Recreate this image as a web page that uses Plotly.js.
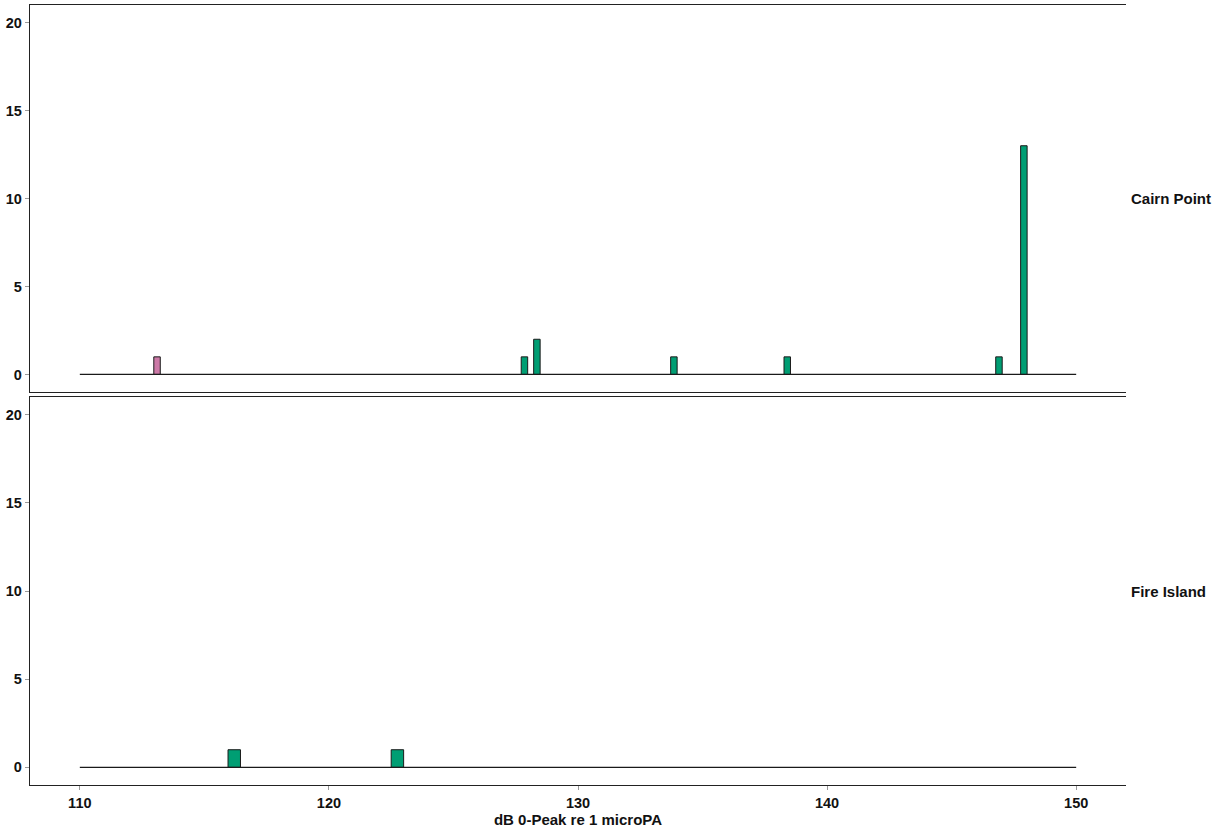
<!DOCTYPE html>
<html>
<head>
<meta charset="utf-8">
<script src="https://cdn.plot.ly/plotly-3.0.1.min.js"></script>
<style>html,body{margin:0;padding:0;background:#fff;}#chart{width:1225px;height:830px;}</style>
</head>
<body>
<div id="chart"></div>
<script>
// Data
const panels = ["Cairn Point", "Fire Island"];
const cairnPinkX = [113.1];
const cairnPinkY = [1];
const cairnGreenX = [127.85, 128.35, 133.85, 138.4, 146.9, 147.9];
const cairnGreenY = [1, 2, 1, 1, 1, 13];
const fireGreenX = [116.2, 122.75];
const fireGreenY = [1, 1];
const baselineX = [110, 150];
const baselineY = [0, 0];
const xTicks = [110, 120, 130, 140, 150];
const yTicks = [0, 5, 10, 15, 20];

const green = "#009E73", pink = "#CC79A7";
const outline = {color: "#1a1a1a", width: 1};
const FAM = "Liberation Sans, Arial, sans-serif";

const traces = [
  {type: "scatter", mode: "lines", x: baselineX, y: baselineY, xaxis: "x2", yaxis: "y2",
   line: {color: "#1a1a1a", width: 1.2}, hoverinfo: "skip", showlegend: false},
  {type: "scatter", mode: "lines", x: baselineX, y: baselineY, xaxis: "x", yaxis: "y",
   line: {color: "#1a1a1a", width: 1.2}, hoverinfo: "skip", showlegend: false},
  {type: "bar", x: cairnPinkX, y: cairnPinkY, xaxis: "x2", yaxis: "y2", width: 0.26,
   marker: {color: pink, line: outline}, showlegend: false},
  {type: "bar", x: cairnGreenX, y: cairnGreenY, xaxis: "x2", yaxis: "y2", width: 0.26,
   marker: {color: green, line: outline}, showlegend: false},
  {type: "bar", x: fireGreenX, y: fireGreenY, xaxis: "x", yaxis: "y", width: 0.5,
   marker: {color: green, line: outline}, showlegend: false}
];

const tickFont = {family: FAM, size: 14.5, color: "#111", weight: "bold"};
const axisLine = {showline: true, linecolor: "#222", linewidth: 1.2, zeroline: false, showgrid: false};

const layout = {
  width: 1225, height: 830,
  margin: {l: 30, r: 99, t: 5, b: 45},
  paper_bgcolor: "#fff", plot_bgcolor: "#fff",
  barmode: "overlay",
  font: {family: FAM},
  xaxis: Object.assign({}, axisLine, {
    anchor: "y", range: [108, 152], tickvals: xTicks, ticktext: xTicks.map(String),
    ticks: "outside", ticklen: 4, tickcolor: "#999", tickwidth: 1, mirror: true,
    tickfont: tickFont,
    title: {text: "dB 0-Peak re 1 microPA", font: {family: FAM, size: 15, color: "#111", weight: "bold"}, standoff: 4}
  }),
  xaxis2: Object.assign({}, axisLine, {
    anchor: "y2", range: [108, 152], showticklabels: false, ticks: "", mirror: true, matches: "x"
  }),
  yaxis: Object.assign({}, axisLine, {
    domain: [0, 0.4974], anchor: "x", range: [-1, 21], tickvals: yTicks, ticktext: yTicks.map(String),
    ticks: "outside", ticklen: 4, tickcolor: "#999", tickwidth: 1, tickfont: tickFont
  }),
  yaxis2: Object.assign({}, axisLine, {
    domain: [0.5038, 1], anchor: "x2", range: [-1, 21], tickvals: yTicks, ticktext: yTicks.map(String),
    ticks: "outside", ticklen: 4, tickcolor: "#999", tickwidth: 1, tickfont: tickFont
  }),
  annotations: [
    {text: panels[0], xref: "paper", yref: "paper", x: 1, xshift: 3, xanchor: "left",
     y: (0.5038 + 1) / 2, yanchor: "middle", showarrow: false,
     font: {family: FAM, size: 15, color: "#111", weight: "bold"}},
    {text: panels[1], xref: "paper", yref: "paper", x: 1, xshift: 3, xanchor: "left",
     y: 0.4974 / 2, yanchor: "middle", showarrow: false,
     font: {family: FAM, size: 15, color: "#111", weight: "bold"}}
  ]
};

Plotly.newPlot("chart", traces, layout, {displayModeBar: false, staticPlot: true});
</script>
</body>
</html>
